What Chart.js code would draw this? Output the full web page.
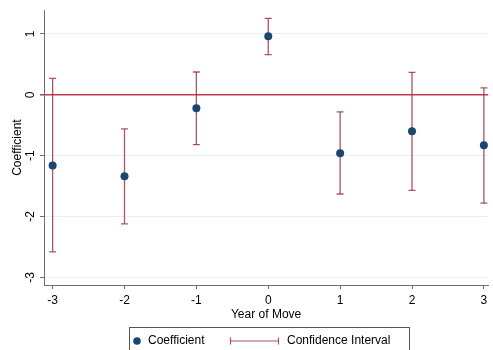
<!DOCTYPE html>
<html><head><meta charset="utf-8">
<script src="https://cdn.jsdelivr.net/npm/chart.js@4.4.0/dist/chart.umd.min.js"></script>
<style>html,body{margin:0;padding:0;background:#fff}#wrap{width:493px;height:350px}</style>
</head><body><div id="wrap"><canvas id="c" width="493" height="350"></canvas></div>
<script>
const years = [-3, -2, -1, 0, 1, 2, 3];
const coefficient = [-1.16, -1.34, -0.22, 0.96, -0.96, -0.60, -0.83];
const ciLower = [-2.58, -2.12, -0.82, 0.66, -1.63, -1.57, -1.78];
const ciUpper = [0.27, -0.56, 0.375, 1.256, -0.28, 0.37, 0.114];
const xTicks = [-3, -2, -1, 0, 1, 2, 3];
const yTicks = [-3, -2, -1, 0, 1];
const seriesNames = ['Coefficient', 'Confidence Interval'];
const xTitle = 'Year of Move';
const yTitle = 'Coefficient';

const NAVY = '#1a476f', CI = 'rgba(150,45,55,0.8)', ZERO = '#c43a52', AXIS = '#6e6e6e', GRID = '#eaf0f1';
const FONT = 'Liberation Sans, Arial, Helvetica, sans-serif';

const coefData = years.map((x, i) => ({x, y: coefficient[i]}));
const ciData = [];
years.forEach((x, i) => { ciData.push({x, y: ciLower[i]}, {x, y: ciUpper[i]}, {x, y: null}); });

const yLabelPlugin = {
  id: 'yLabels',
  afterDraw(chart) {
    const ctx = chart.ctx, s = chart.scales.y;
    ctx.save();
    ctx.font = '12px ' + FONT; ctx.fillStyle = '#000';
    ctx.textAlign = 'center'; ctx.textBaseline = 'middle';
    yTicks.forEach(v => {
      const py = s.getPixelForValue(v);
      ctx.save(); ctx.translate(31, py); ctx.rotate(-Math.PI / 2);
      ctx.fillText(String(v), 0, 0); ctx.restore();
    });
    ctx.restore();
  }
};

const legendPlugin = {
  id: 'customLegend',
  afterDraw(chart) {
    const ctx = chart.ctx;
    ctx.save();
    ctx.strokeStyle = '#555'; ctx.lineWidth = 1;
    ctx.strokeRect(129.5, 327.5, 280, 40);
    const cy = 341;
    ctx.fillStyle = NAVY; ctx.beginPath(); ctx.arc(137, cy, 3.8, 0, Math.PI * 2); ctx.fill();
    ctx.strokeStyle = CI; ctx.lineWidth = 1.2;
    ctx.beginPath(); ctx.moveTo(230, cy); ctx.lineTo(279, cy);
    ctx.moveTo(230.5, cy - 3.5); ctx.lineTo(230.5, cy + 3.5);
    ctx.moveTo(278.5, cy - 3.5); ctx.lineTo(278.5, cy + 3.5); ctx.stroke();
    ctx.fillStyle = '#000'; ctx.font = '12px ' + FONT; ctx.textBaseline = 'middle'; ctx.textAlign = 'left';
    ctx.fillText(seriesNames[0], 148, cy);
    ctx.fillText(seriesNames[1], 287, cy);
    ctx.restore();
  }
};

new Chart(document.getElementById('c'), {
  type: 'scatter',
  data: {
    datasets: [
      {label: seriesNames[0], data: coefData, pointRadius: 4, pointHoverRadius: 4,
       backgroundColor: NAVY, borderColor: NAVY, pointBorderWidth: 0},
      {label: seriesNames[1], data: ciData, showLine: true, spanGaps: false,
       borderColor: CI, borderWidth: 1.3, pointStyle: 'line', pointRadius: 3.5, pointHoverRadius: 3.5,
       pointBorderColor: CI, pointBorderWidth: 1.3, backgroundColor: CI}
    ]
  },
  options: {
    responsive: false, animation: false, devicePixelRatio: 1,
    layout: {padding: {top: 6, right: 3, bottom: 25, left: 0}},
    plugins: {legend: {display: false}, tooltip: {enabled: false}},
    scales: {
      x: {
        type: 'linear', min: -3.12, max: 3.06,
        afterBuildTicks: s => { s.ticks = xTicks.map(v => ({value: v})); },
        afterFit: s => { s.height = 40; },
        grid: {drawOnChartArea: false, tickLength: 4, tickColor: AXIS},
        border: {display: true, color: AXIS, width: 1},
        ticks: {color: '#000', font: {size: 12, family: FONT}, padding: 4, maxRotation: 0, autoSkip: false},
        title: {display: true, text: xTitle, color: '#000', font: {size: 12, family: FONT}, padding: {top: 0, bottom: 3}}
      },
      y: {
        type: 'linear', min: -3.125, max: 1.39,
        afterBuildTicks: s => { s.ticks = yTicks.map(v => ({value: v})); },
        afterFit: s => { s.width = 44; },
        grid: {
          color: c => (c.tick && c.tick.value === 0) ? ZERO : GRID,
          lineWidth: c => (c.tick && c.tick.value === 0) ? 1.6 : 1,
          tickLength: 4, tickColor: AXIS
        },
        border: {display: true, color: AXIS, width: 1},
        ticks: {color: 'rgba(0,0,0,0)', font: {size: 12, family: FONT}, padding: 3},
        title: {display: true, text: yTitle, color: '#000', font: {size: 12, family: FONT}, padding: {top: 10, bottom: 0}}
      }
    }
  },
  plugins: [yLabelPlugin, legendPlugin]
});
</script></body></html>
